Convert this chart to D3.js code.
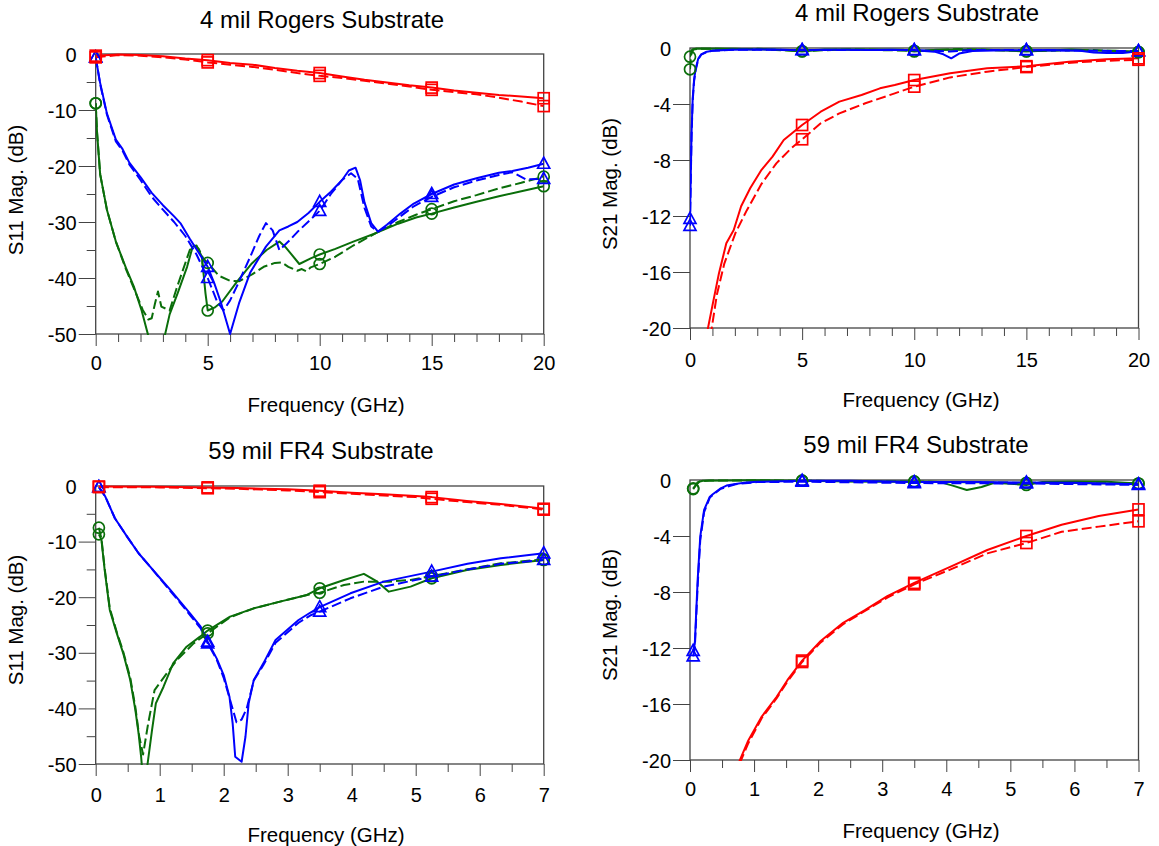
<!DOCTYPE html>
<html>
<head>
<meta charset="utf-8">
<script src="https://cdn.jsdelivr.net/npm/d3@7"></script>
<style>
  body { margin: 0; background: #fff; }
  svg text { font-family: "Liberation Sans", Arial, Helvetica, sans-serif; fill: #000; }
</style>
</head>
<body>
<svg id="chart" width="1159" height="846"></svg>
<script>
// ---------- tick values ----------
const rogersFreqTicks = [0, 5, 10, 15, 20];
const fr4FreqTicks = [0, 1, 2, 3, 4, 5, 6, 7];
const s11Ticks = [0, -10, -20, -30, -40, -50];
const s21Ticks = [0, -4, -8, -12, -16, -20];

// frequencies that carry a trace marker
const rogersMarkerFreqs = [0, 5, 10, 15, 20];
const fr4MarkerFreqs = [0.05, 1.75, 3.5, 5.25, 7];

// ---------- 4 mil Rogers, S11 [GHz, dB] ----------
const rogersS11RedSolid = [[0,-0.3],[1,-0.1],[2,-0.2],[3,-0.4],[4,-0.8],[5,-1.1],[6,-1.6],[7,-1.9],[8,-2.5],[9,-3.0],[10,-3.4],[11,-4.0],[12,-4.6],[13,-5.1],[14,-5.6],[15,-6.0],[16,-6.5],[17,-6.9],[18,-7.3],[19,-7.6],[20,-7.9]];
const rogersS11RedDashed = [[0,-0.6],[1,-0.2],[2,-0.3],[3,-0.6],[4,-1.0],[5,-1.5],[6,-1.9],[7,-2.3],[8,-2.8],[9,-3.4],[10,-3.9],[11,-4.3],[12,-4.8],[13,-5.3],[14,-5.8],[15,-6.4],[16,-6.8],[17,-7.2],[18,-7.8],[19,-8.5],[20,-9.3]];
const rogersS11BlueSolid = [[0,-0.6],[0.2,-5.2],[0.5,-10.6],[0.9,-15.3],[1.2,-17.0],[1.5,-19.4],[2,-22.0],[2.5,-24.8],[3,-27.0],[3.5,-29.0],[3.8,-30.3],[4.2,-33.0],[4.6,-35.5],[5,-38.0],[5.3,-41.0],[5.6,-44.5],[6,-50.0],[6.4,-44.5],[6.9,-39.0],[7.6,-34.4],[8.2,-31.5],[8.6,-30.8],[9,-30.0],[9.5,-28.4],[10,-26.4],[10.5,-24.6],[11,-22.5],[11.3,-20.8],[11.6,-20.3],[11.8,-22.5],[12,-26.5],[12.3,-30.2],[12.6,-31.7],[13,-30.5],[13.6,-28.5],[14.2,-26.7],[15,-25.0],[16,-23.3],[17,-22.2],[18,-21.2],[18.6,-20.9],[19.3,-20.3],[20,-19.6]];
const rogersS11BlueDashed = [[0,-0.6],[0.2,-5.4],[0.5,-10.8],[0.9,-15.6],[1.2,-17.3],[1.5,-19.7],[2,-22.5],[2.5,-25.5],[3,-27.8],[3.5,-30.0],[4,-32.5],[4.5,-35.8],[5,-40.0],[5.4,-44.0],[5.7,-45.8],[6,-44.0],[6.3,-41.5],[6.9,-36.2],[7.3,-32.5],[7.6,-30.2],[7.9,-31.5],[8.2,-35.0],[8.6,-33.5],[9,-31.8],[9.5,-29.9],[10,-28.0],[10.5,-25.0],[11,-22.5],[11.4,-21.3],[11.7,-22.3],[12,-27.5],[12.3,-30.8],[12.6,-31.7],[13,-30.8],[13.6,-29.0],[14.2,-27.2],[15,-25.5],[16,-23.8],[17,-22.6],[18,-21.6],[18.6,-21.1],[19.2,-22.4],[20,-22.3]];
const rogersS11GreenSolid = [[0,-8.8],[0.06,-14.0],[0.2,-21.5],[0.5,-27.8],[0.9,-33.5],[1.35,-38.2],[1.7,-41.5],[2.05,-45.8],[2.34,-50.2],[2.7,-55.0],[2.9,-54.0],[3.09,-50.2],[3.3,-46.5],[3.66,-42.7],[4.08,-38.0],[4.33,-34.4],[4.5,-34.2],[4.74,-36.2],[4.9,-42.7],[5,-45.8],[5.3,-45.3],[5.65,-44.2],[6.3,-40.7],[6.97,-37.4],[7.63,-35.0],[8.2,-33.5],[8.5,-34.6],[9.09,-37.5],[9.6,-36.5],[10,-35.8],[10.7,-34.8],[11.5,-33.5],[12.5,-32.0],[13.5,-30.3],[14.3,-29.2],[15,-28.5],[16,-27.4],[17,-26.4],[18,-25.4],[19,-24.5],[20,-23.6]];
const rogersS11GreenDashed = [[0,-8.8],[0.06,-14.0],[0.2,-21.5],[0.5,-27.8],[0.9,-33.5],[1.35,-38.4],[1.7,-41.8],[2.1,-45.7],[2.35,-47.4],[2.5,-47.2],[2.65,-44.5],[2.78,-42.4],[2.93,-45.1],[3.3,-45.8],[3.6,-42.0],[3.9,-38.5],[4.2,-35.0],[4.4,-34.2],[4.6,-34.8],[4.8,-36.5],[5,-37.3],[5.5,-39.6],[6,-40.5],[6.4,-40.6],[7,-39.3],[7.5,-38.0],[8,-37.3],[8.3,-37.2],[8.6,-38.0],[9,-38.7],[9.2,-38.4],[9.4,-38.8],[9.6,-38.1],[10,-37.5],[10.7,-36.2],[11.5,-34.2],[12.5,-32.0],[13.5,-30.0],[14.3,-28.7],[15,-27.7],[16,-26.3],[17,-25.2],[18,-24.0],[19,-23.0],[20,-21.9]];

// ---------- 4 mil Rogers, S21 [GHz, dB] ----------
const rogersS21RedSolid = [[0.74,-20.5],[0.79,-20.1],[1.0,-18.4],[1.29,-16.1],[1.62,-13.95],[1.95,-13.0],[2.28,-11.3],[2.69,-10.0],[3.19,-8.7],[3.68,-7.76],[4.18,-6.57],[5,-5.5],[5.83,-4.55],[6.66,-3.83],[7.65,-3.36],[8.47,-2.88],[9.13,-2.64],[10,-2.29],[11.6,-1.8],[13.25,-1.45],[15,-1.3],[16.9,-0.98],[18.54,-0.81],[20,-0.74]];
const rogersS21RedDashed = [[0.9,-20.6],[0.96,-20.1],[1.2,-17.6],[1.53,-15.4],[2.03,-13.2],[2.53,-11.6],[3.19,-9.7],[3.85,-8.24],[4.51,-7.17],[5,-6.52],[5.83,-5.38],[6.66,-4.67],[7.82,-3.95],[9.13,-3.24],[10,-2.76],[11.6,-2.1],[13.25,-1.69],[15,-1.36],[16.6,-1.1],[18.2,-0.93],[20,-0.84]];
const rogersS21BlueSolid = [[0,-12.2],[0.03,-9.5],[0.07,-6.0],[0.12,-3.6],[0.18,-2.3],[0.25,-1.5],[0.37,-0.75],[0.5,-0.45],[0.75,-0.26],[1,-0.2],[1.8,-0.13],[3,-0.1],[4,-0.12],[5,-0.16],[6,-0.12],[7,-0.13],[8,-0.14],[9,-0.13],[10,-0.16],[10.9,-0.26],[11.3,-0.45],[11.65,-0.74],[12,-0.4],[12.6,-0.22],[14,-0.16],[15,-0.16],[16,-0.15],[17.4,-0.2],[18,-0.32],[18.6,-0.36],[19.3,-0.36],[19.6,-0.3],[20,-0.22]];
const rogersS21BlueDashed = [[0,-12.7],[0.03,-9.8],[0.07,-6.3],[0.12,-3.8],[0.18,-2.4],[0.25,-1.6],[0.37,-0.8],[0.5,-0.48],[0.75,-0.28],[1,-0.2],[2,-0.12],[5,-0.14],[10,-0.15],[11.6,-0.25],[12.5,-0.15],[15,-0.15],[18,-0.2],[20,-0.22]];
const rogersS21GreenSolid = [[0,-0.62],[0.1,-0.1],[0.3,-0.03],[2,-0.05],[2.9,-0.1],[3,-0.05],[4,-0.12],[5,-0.25],[6,-0.1],[8,-0.1],[9.5,-0.12],[10,-0.25],[11,-0.12],[13,-0.1],[15,-0.25],[17,-0.1],[18,-0.18],[19,-0.2],[20,-0.3]];
const rogersS21GreenDashed = [[0,-1.52],[0.05,-0.5],[0.15,-0.1],[0.5,-0.05],[3,-0.08],[5,-0.22],[7,-0.1],[10,-0.2],[12,-0.08],[15,-0.22],[18,-0.15],[20,-0.28]];

// ---------- 59 mil FR4, S11 [GHz, dB] ----------
const fr4S11RedSolid = [[0.05,-0.1],[1,-0.15],[1.75,-0.25],[2.2,-0.35],[2.6,-0.5],[3,-0.6],[3.5,-0.85],[4,-1.2],[4.5,-1.5],[5,-1.8],[5.25,-2.0],[5.8,-2.7],[6.33,-3.25],[6.8,-3.8],[7,-4.1]];
const fr4S11RedDashed = [[0.05,-0.2],[1,-0.25],[1.75,-0.4],[2.2,-0.5],[2.6,-0.65],[3,-0.8],[3.5,-1.1],[4,-1.4],[4.5,-1.7],[5,-2.0],[5.25,-2.3],[5.8,-2.9],[6.33,-3.4],[6.8,-3.95],[7,-4.25]];
const fr4S11BlueSolid = [[0.05,-0.2],[0.15,-1.9],[0.3,-5.8],[0.49,-9.1],[0.67,-12.1],[0.85,-14.5],[1,-16.5],[1.16,-18.6],[1.32,-20.8],[1.48,-23.0],[1.64,-25.3],[1.75,-28.0],[1.89,-31.0],[2,-34.0],[2.09,-37.9],[2.14,-42.7],[2.18,-48.7],[2.28,-49.6],[2.34,-45.1],[2.39,-39.1],[2.47,-34.9],[2.62,-31.9],[2.81,-27.7],[2.99,-25.9],[3.17,-24.1],[3.35,-22.8],[3.5,-21.8],[3.98,-19.3],[4.5,-17.2],[5.25,-15.4],[5.81,-14.0],[6.33,-13.0],[7,-12.1]];
const fr4S11BlueDashed = [[0.05,-0.2],[0.15,-1.9],[0.3,-5.8],[0.49,-9.1],[0.67,-12.1],[0.85,-14.5],[1,-16.6],[1.16,-18.8],[1.32,-21.0],[1.48,-23.3],[1.64,-25.6],[1.75,-28.3],[1.89,-31.2],[2,-34.5],[2.1,-38.5],[2.2,-42.5],[2.28,-42.0],[2.36,-40.0],[2.47,-35.0],[2.62,-32.2],[2.81,-28.2],[2.99,-26.4],[3.17,-24.6],[3.35,-23.3],[3.5,-22.6],[3.98,-20.2],[4.5,-18.1],[5.25,-16.3],[5.81,-15.0],[6.33,-14.0],[7,-13.3]];
const fr4S11GreenSolid = [[0.05,-8.7],[0.09,-9.7],[0.14,-15.1],[0.22,-22.3],[0.33,-26.5],[0.43,-30.1],[0.54,-34.9],[0.62,-40.3],[0.67,-44.5],[0.71,-48.7],[0.74,-53.0],[0.78,-53.0],[0.81,-50.0],[0.88,-43.9],[0.94,-39.1],[1.06,-36.1],[1.21,-31.9],[1.42,-28.9],[1.63,-27.1],[1.75,-26.0],[2.1,-23.5],[2.47,-22.0],[2.88,-20.8],[3.3,-19.6],[3.5,-18.4],[3.88,-16.9],[4.19,-15.8],[4.4,-17.2],[4.58,-19.0],[4.92,-18.1],[5.25,-16.6],[5.8,-15.1],[6.33,-14.2],[7,-13.3]];
const fr4S11GreenDashed = [[0.05,-7.5],[0.09,-9.5],[0.14,-14.8],[0.22,-22.0],[0.33,-26.3],[0.43,-29.8],[0.54,-34.5],[0.62,-39.8],[0.68,-45.0],[0.74,-48.3],[0.82,-42.7],[0.92,-36.7],[1.11,-33.7],[1.27,-31.3],[1.53,-28.3],[1.75,-26.5],[2.1,-23.6],[2.47,-22.0],[2.88,-20.8],[3.3,-19.6],[3.5,-19.2],[3.88,-17.8],[4.19,-17.2],[4.58,-17.2],[4.92,-16.9],[5.25,-16.2],[5.8,-15.0],[6.33,-13.9],[7,-13.2]];

// ---------- 59 mil FR4, S21 [GHz, dB] ----------
const fr4S21RedSolid = [[0.72,-21.0],[0.77,-20.1],[0.91,-18.6],[1.12,-16.9],[1.35,-15.5],[1.52,-14.3],[1.75,-12.9],[2.04,-11.5],[2.39,-10.2],[2.73,-9.3],[3.08,-8.3],[3.5,-7.35],[4.06,-6.2],[4.64,-5.0],[5.25,-4.0],[5.8,-3.2],[6.38,-2.57],[7,-2.1]];
const fr4S21RedDashed = [[0.72,-21.2],[0.77,-20.3],[0.91,-18.8],[1.12,-17.0],[1.35,-15.6],[1.52,-14.4],[1.75,-13.0],[2.04,-11.6],[2.39,-10.3],[2.73,-9.35],[3.08,-8.4],[3.5,-7.45],[4.06,-6.4],[4.64,-5.24],[5.25,-4.5],[5.8,-3.7],[6.38,-3.33],[7,-2.95]];
const fr4S21BlueSolid = [[0.05,-12.2],[0.075,-11.7],[0.12,-7.1],[0.16,-4.05],[0.22,-2.14],[0.31,-1.19],[0.36,-1.0],[0.48,-0.6],[0.57,-0.4],[0.71,-0.29],[0.88,-0.17],[1.05,-0.13],[1.75,-0.05],[2.5,-0.05],[3.5,-0.15],[4.5,-0.15],[5.25,-0.18],[6,-0.2],[7,-0.3]];
const fr4S21BlueDashed = [[0.05,-12.6],[0.075,-12.0],[0.12,-7.5],[0.16,-4.3],[0.22,-2.3],[0.31,-1.25],[0.48,-0.62],[0.71,-0.3],[1.05,-0.15],[1.75,-0.12],[3.5,-0.22],[5.25,-0.25],[7,-0.35]];
const fr4S21GreenSolid = [[0.05,-0.65],[0.12,-0.15],[0.2,-0.05],[1,-0.02],[1.75,-0.05],[2.5,-0.1],[3.5,-0.1],[3.9,-0.15],[4.1,-0.4],[4.32,-0.71],[4.55,-0.5],[4.75,-0.2],[5.25,-0.35],[5.5,-0.15],[6,-0.1],[6.5,-0.12],[7,-0.25]];
const fr4S21GreenDashed = [[0.05,-0.6],[0.15,-0.1],[0.3,-0.03],[1.75,-0.05],[3.5,-0.12],[5.25,-0.2],[7,-0.25]];

// ---------- styling ----------
const RED = "#ff0000", BLUE = "#0000ff", GREEN = "#0a6e0a";
const AXIS = "#444";
const DASH = "10,4";

function traceSet(gS, gD, bS, bD, rS, rD) {
  return [
    { data: gS, color: GREEN, dashed: false, shape: "circle" },
    { data: gD, color: GREEN, dashed: true, shape: "circle" },
    { data: bS, color: BLUE, dashed: false, shape: "triangle" },
    { data: bD, color: BLUE, dashed: true, shape: "triangle" },
    { data: rS, color: RED, dashed: false, shape: "square" },
    { data: rD, color: RED, dashed: true, shape: "square" }
  ];
}

const panels = [
  {
    title: "4 mil Rogers Substrate", yTitle: "S11 Mag. (dB)",
    plot: { left: 95.7, right: 543.7, top: 54, bottom: 334 },
    xDomain: [0, 20], xTicks: rogersFreqTicks, xMinorStep: 1,
    yDomain: [-50, 0], yTicks: s11Ticks, yMinorStep: 5,
    markerFreqs: rogersMarkerFreqs,
    traces: traceSet(rogersS11GreenSolid, rogersS11GreenDashed, rogersS11BlueSolid, rogersS11BlueDashed, rogersS11RedSolid, rogersS11RedDashed),
    titleAt: [322, 28], xTitleAt: [326, 412], yTitleAt: [23, 190], xLabelBaseline: 370
  },
  {
    title: "4 mil Rogers Substrate", yTitle: "S21 Mag. (dB)",
    plot: { left: 690, right: 1138.5, top: 48, bottom: 328 },
    xDomain: [0, 20], xTicks: rogersFreqTicks, xMinorStep: 1,
    yDomain: [-20, 0], yTicks: s21Ticks, yMinorStep: null,
    markerFreqs: rogersMarkerFreqs,
    traces: traceSet(rogersS21GreenSolid, rogersS21GreenDashed, rogersS21BlueSolid, rogersS21BlueDashed, rogersS21RedSolid, rogersS21RedDashed),
    titleAt: [917, 21], xTitleAt: [921, 407], yTitleAt: [617, 184], xLabelBaseline: 367
  },
  {
    title: "59 mil FR4 Substrate", yTitle: "S11 Mag. (dB)",
    plot: { left: 95.7, right: 543.7, top: 486, bottom: 764 },
    xDomain: [0, 7], xTicks: fr4FreqTicks, xMinorStep: 0.5,
    yDomain: [-50, 0], yTicks: s11Ticks, yMinorStep: 5,
    markerFreqs: fr4MarkerFreqs,
    traces: traceSet(fr4S11GreenSolid, fr4S11GreenDashed, fr4S11BlueSolid, fr4S11BlueDashed, fr4S11RedSolid, fr4S11RedDashed),
    titleAt: [321, 459], xTitleAt: [326, 842], yTitleAt: [23, 620], xLabelBaseline: 802
  },
  {
    title: "59 mil FR4 Substrate", yTitle: "S21 Mag. (dB)",
    plot: { left: 690, right: 1138.5, top: 480, bottom: 760 },
    xDomain: [0, 7], xTicks: fr4FreqTicks, xMinorStep: 0.5,
    yDomain: [-20, 0], yTicks: s21Ticks, yMinorStep: null,
    markerFreqs: fr4MarkerFreqs,
    traces: traceSet(fr4S21GreenSolid, fr4S21GreenDashed, fr4S21BlueSolid, fr4S21BlueDashed, fr4S21RedSolid, fr4S21RedDashed),
    titleAt: [916, 453], xTitleAt: [921, 838], yTitleAt: [617, 615], xLabelBaseline: 796
  }
];

const svg = d3.select("#chart");
const fmt = d => String(d);

panels.forEach((p, i) => {
  const { left, right, top, bottom } = p.plot;
  const x = d3.scaleLinear().domain(p.xDomain).range([left, right]);
  const y = d3.scaleLinear().domain(p.yDomain).range([bottom, top]);
  const g = svg.append("g").attr("class", "panel");

  const clipId = "clip" + i;
  svg.append("clipPath").attr("id", clipId)
    .append("rect").attr("x", left).attr("y", top - 1)
    .attr("width", right - left).attr("height", bottom - top + 2);

  // minor ticks
  const xMinor = d3.range(p.xDomain[0], p.xDomain[1] + 1e-9, p.xMinorStep)
    .filter(v => !p.xTicks.some(t => Math.abs(t - v) < 1e-9));
  g.append("g").attr("transform", `translate(0,${bottom})`)
    .call(d3.axisBottom(x).tickValues(xMinor).tickSize(8).tickFormat(""))
    .call(a => a.select(".domain").remove())
    .attr("color", AXIS);
  if (p.yMinorStep) {
    const yMinor = d3.range(p.yDomain[0], p.yDomain[1] + 1e-9, p.yMinorStep)
      .filter(v => !p.yTicks.some(t => Math.abs(t - v) < 1e-9));
    g.append("g").attr("transform", `translate(${left},0)`)
      .call(d3.axisLeft(y).tickValues(yMinor).tickSize(9).tickFormat(""))
      .call(a => a.select(".domain").remove())
      .attr("color", AXIS);
  }

  // major x axis
  const xa = g.append("g").attr("transform", `translate(0,${bottom})`)
    .call(d3.axisBottom(x).tickValues(p.xTicks).tickSize(12).tickFormat(fmt))
    .attr("color", AXIS);
  xa.select(".domain").remove();
  xa.selectAll("text").attr("fill", "#000").attr("dy", null)
    .attr("y", p.xLabelBaseline - bottom)
    .attr("font-size", 20).attr("font-family", null);
  xa.attr("font-family", null).attr("font-size", null);

  // major y axis
  const ya = g.append("g").attr("transform", `translate(${left},0)`)
    .call(d3.axisLeft(y).tickValues(p.yTicks).tickSize(17).tickPadding(2).tickFormat(fmt))
    .attr("color", AXIS);
  ya.select(".domain").remove();
  ya.selectAll(".tick").filter(d => d === p.yDomain[1]).select("line").remove();
  ya.selectAll("text").attr("fill", "#000").attr("dy", "0.35em")
    .attr("font-size", 20).attr("font-family", null);
  ya.attr("font-family", null).attr("font-size", null);

  // plot frame
  g.append("rect").attr("x", left).attr("y", top)
    .attr("width", right - left).attr("height", bottom - top)
    .attr("fill", "none").attr("stroke", AXIS).attr("stroke-width", 1.3);

  // traces
  const line = d3.line().x(d => x(d[0])).y(d => y(d[1]));
  const traceG = g.append("g").attr("clip-path", `url(#${clipId})`);
  p.traces.forEach(t => {
    traceG.append("path").datum(t.data)
      .attr("d", line)
      .attr("fill", "none")
      .attr("stroke", t.color)
      .attr("stroke-width", 2)
      .attr("stroke-linejoin", "round")
      .attr("stroke-dasharray", t.dashed ? DASH : null);
  });

  // markers at the marker frequencies
  const markG = g.append("g");
  p.traces.forEach(t => {
    const pts = t.data.filter(d =>
      p.markerFreqs.some(f => Math.abs(f - d[0]) < 1e-6) &&
      d[1] >= p.yDomain[0] && d[1] <= p.yDomain[1]);
    pts.forEach(d => {
      const cx = x(d[0]), cy = y(d[1]);
      let m;
      if (t.shape === "circle") {
        m = markG.append("circle").attr("cx", cx).attr("cy", cy).attr("r", 5.5);
      } else if (t.shape === "square") {
        m = markG.append("rect").attr("x", cx - 5.5).attr("y", cy - 5.5).attr("width", 11).attr("height", 11);
      } else {
        m = markG.append("path").attr("d", `M${cx},${cy - 6.5}L${cx + 6},${cy + 4.5}L${cx - 6},${cy + 4.5}Z`);
      }
      m.attr("fill", "none").attr("stroke", t.color).attr("stroke-width", 1.7);
    });
  });

  // titles
  g.append("text").attr("x", p.titleAt[0]).attr("y", p.titleAt[1])
    .attr("text-anchor", "middle").attr("font-size", 24).text(p.title);
  g.append("text").attr("x", p.xTitleAt[0]).attr("y", p.xTitleAt[1])
    .attr("text-anchor", "middle").attr("font-size", 20.5).text("Frequency (GHz)");
  g.append("text")
    .attr("transform", `translate(${p.yTitleAt[0]},${p.yTitleAt[1]}) rotate(-90)`)
    .attr("text-anchor", "middle").attr("font-size", 20.5).text(p.yTitle);
});
</script>
</body>
</html>
